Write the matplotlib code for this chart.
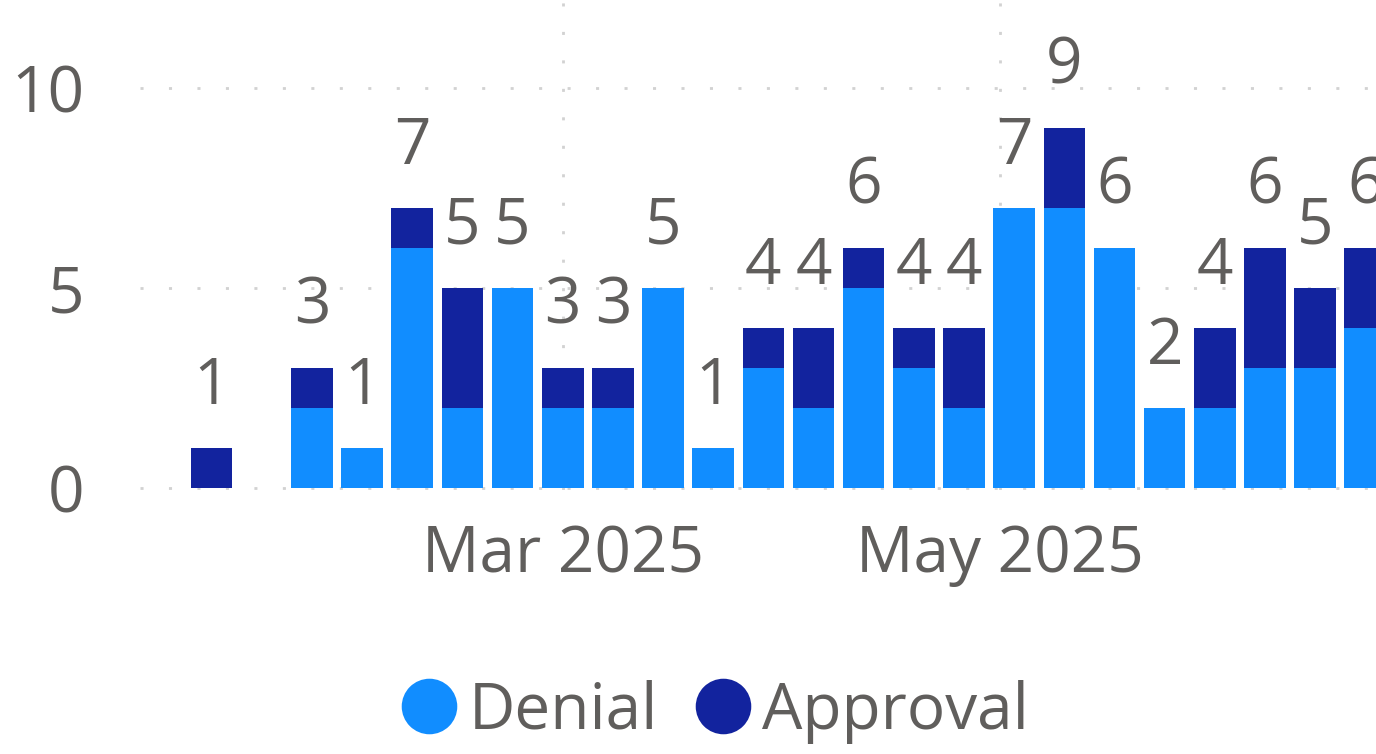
#!/usr/bin/env python3
# -*- coding: utf-8 -*-
"""
每周 Denial / Approval 堆叠柱状图
"""

import pandas as pd
import matplotlib.pyplot as plt
from matplotlib.lines import Line2D

# 周数据
weeks = [
    '2025-01-11', '2025-01-18', '2025-01-25', '2025-02-01', '2025-02-08', '2025-02-15',
    '2025-02-22', '2025-03-01', '2025-03-08', '2025-03-15', '2025-03-22', '2025-03-29',
    '2025-04-05', '2025-04-12', '2025-04-19', '2025-04-26', '2025-05-03', '2025-05-10',
    '2025-05-17', '2025-05-24', '2025-05-31', '2025-06-07', '2025-06-14', '2025-06-21',
]
denial = [0, 0, 2, 1, 6, 2, 5, 2, 2, 5, 1, 3, 2, 5, 3, 2, 7, 7, 6, 2, 2, 3, 3, 4]
approval = [1, 0, 1, 0, 1, 3, 0, 1, 1, 0, 0, 1, 2, 1, 1, 2, 0, 2, 0, 0, 2, 3, 2, 2]

x_ticks = ['2025-03-01', '2025-05-01']
x_tick_labels = ['Mar 2025', 'May 2025']
y_ticks = [0, 5, 10]

DENIAL_COLOR = '#118DFF'
APPROVAL_COLOR = '#12239E'
TEXT_COLOR = '#605E5C'
FS = 46

plt.rcParams['font.family'] = ['Open Sans', 'DejaVu Sans']

dates = pd.to_datetime(weeks)
totals = [d + a for d, a in zip(denial, approval)]

fig = plt.figure(figsize=(13.76, 7.54), dpi=100)
ax = fig.add_axes([140 / 1376, 264 / 754, 1236 / 1376, 490 / 754])

ax.bar(dates, denial, width=5.8, color=DENIAL_COLOR, zorder=3)
ax.bar(dates, approval, width=5.8, bottom=denial, color=APPROVAL_COLOR, zorder=3)

# 数据标签
for d, t in zip(dates, totals):
    if t > 0:
        ax.annotate(str(t), (d, t), xytext=(0, 32), textcoords='offset points',
                    ha='center', va='baseline', fontsize=FS, color=TEXT_COLOR)

ax.set_xlim(pd.Timestamp('2025-01-01'), pd.Timestamp('2025-06-22 12:00'))
ax.set_ylim(-0.05, 12.2)

ax.set_xticks(pd.to_datetime(x_ticks))
ax.set_xticklabels(x_tick_labels)
ax.set_yticks(y_ticks)
ax.tick_params(axis='both', length=0, labelsize=FS, labelcolor=TEXT_COLOR)
ax.tick_params(axis='y', pad=40)
ax.tick_params(axis='x', pad=24)

ax.grid(True, color='#D2D2D2', linewidth=2.0, linestyle=(0, (1.1, 9.15)), zorder=0)
for s in ax.spines.values():
    s.set_visible(False)

handles = [
    Line2D([], [], linestyle='none', marker='o', markersize=40,
           markerfacecolor=DENIAL_COLOR, markeredgewidth=0, label='Denial'),
    Line2D([], [], linestyle='none', marker='o', markersize=40,
           markerfacecolor=APPROVAL_COLOR, markeredgewidth=0, label='Approval'),
]
leg = fig.legend(handles=handles, loc='center', bbox_to_anchor=(0.52, 0.056), ncol=2,
                 frameon=False, fontsize=FS, handlelength=0.86, handletextpad=0.19,
                 columnspacing=0.58, borderpad=0)
for t in leg.get_texts():
    t.set_color(TEXT_COLOR)

fig.savefig('out.png', dpi=100)
plt.close(fig)
